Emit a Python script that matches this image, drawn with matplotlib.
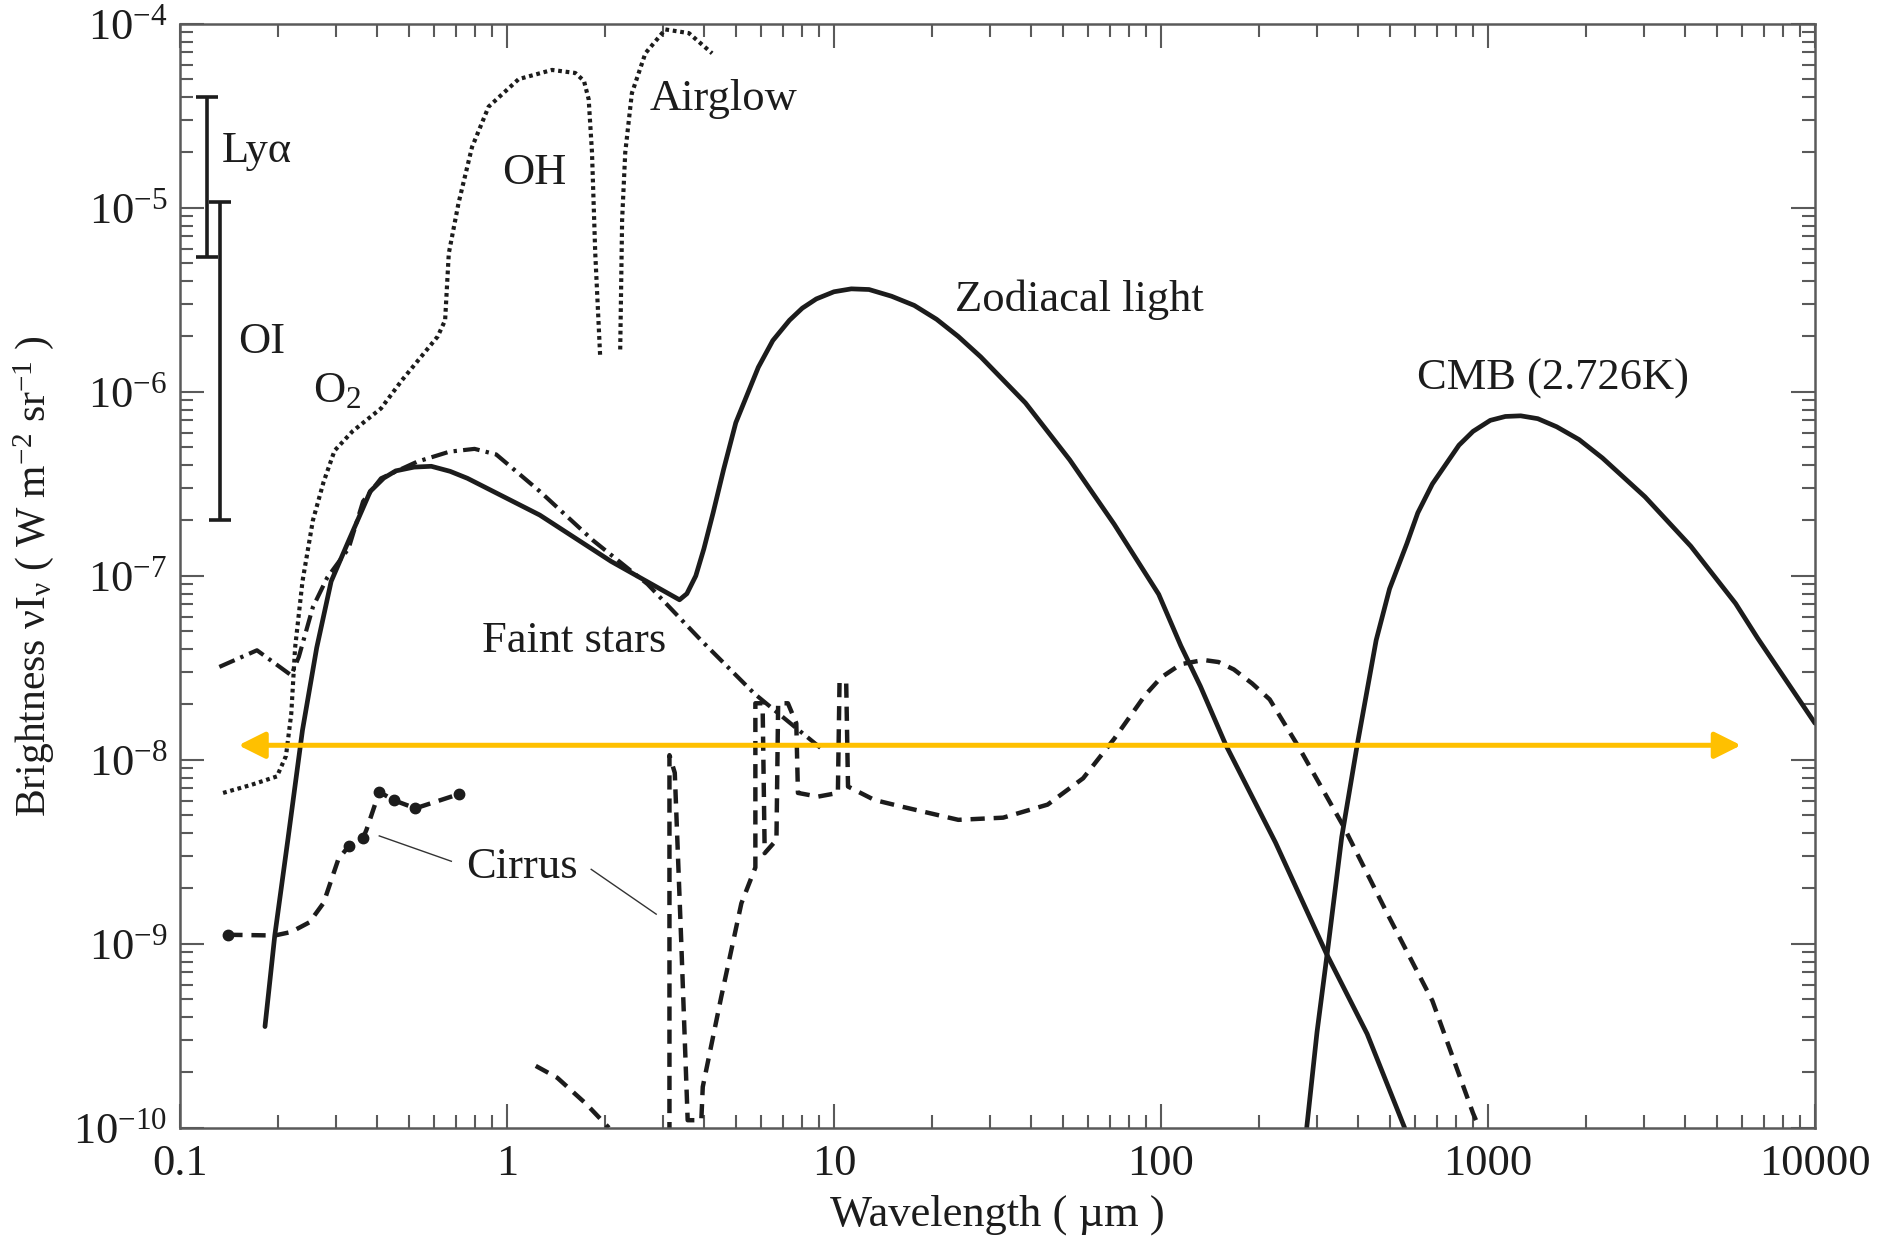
import numpy as np
import matplotlib
matplotlib.use("Agg")
import matplotlib.pyplot as plt
from matplotlib.ticker import LogLocator, NullFormatter

plt.rcParams['font.family'] = ['Liberation Serif', 'DejaVu Serif']
plt.rcParams['mathtext.fontset'] = 'custom'
plt.rcParams['mathtext.rm'] = 'Liberation Serif'
plt.rcParams['mathtext.it'] = 'Liberation Serif'
plt.rcParams['mathtext.bf'] = 'Liberation Serif:bold'

# ---- data (wavelength in um, brightness in W m^-2 sr^-1)
zodi_wl = [0.182, 0.195, 0.214, 0.237, 0.262, 0.290, 0.328, 0.382, 0.42, 0.457, 0.52, 0.587,
           0.67, 0.757, 1.26, 2.08, 3.37, 3.55, 3.78, 4.0, 4.27, 4.6, 5.01, 5.87, 6.5, 7.31,
           8.0, 8.83, 10.0, 11.3, 12.8, 15.0, 17.6, 20.6, 24.0, 28.1, 38.5, 52.6, 71.9,
           98.4, 115, 132, 158, 224, 320, 427, 556]
zodi_b = [3.55e-10, 1.11e-9, 3.72e-9, 1.45e-8, 4.07e-8, 9.33e-8, 1.55e-7, 2.88e-7, 3.4e-7,
          3.72e-7, 3.9e-7, 3.94e-7, 3.7e-7, 3.39e-7, 2.14e-7, 1.20e-7, 7.41e-8, 8.0e-8, 1.0e-7,
          1.4e-7, 2.2e-7, 3.8e-7, 6.8e-7, 1.36e-6, 1.9e-6, 2.45e-6, 2.85e-6, 3.2e-6, 3.5e-6,
          3.63e-6, 3.6e-6, 3.31e-6, 2.95e-6, 2.48e-6, 2.0e-6, 1.55e-6, 8.71e-7, 4.27e-7,
          1.91e-7, 7.94e-8, 4.17e-8, 2.51e-8, 1.2e-8, 3.55e-9, 8.9e-10, 3.24e-10, 1.0e-10]

faint_wl = [0.132, 0.172, 0.219, 0.231, 0.255, 0.282, 0.328, 0.363, 0.412, 0.531, 0.667,
            0.796, 0.927, 1.26, 1.84, 2.69, 3.92, 5.71, 7.59, 9.33]
faint_b = [3.20e-8, 3.94e-8, 2.88e-8, 3.63e-8, 6.76e-8, 9.77e-8, 1.41e-7, 2.54e-7, 3.39e-7,
           4.17e-7, 4.73e-7, 4.90e-7, 4.57e-7, 2.88e-7, 1.55e-7, 9.02e-8, 4.47e-8, 2.29e-8,
           1.51e-8, 1.12e-8]

airglow1_wl = [0.1355, 0.166, 0.198, 0.211, 0.219, 0.225, 0.237, 0.255, 0.275, 0.297, 0.337,
               0.412, 0.478, 0.614, 0.647, 0.664, 0.711, 0.782, 0.879, 1.086, 1.374, 1.618,
               1.72, 1.778, 1.82, 1.862, 1.928]
airglow1_b = [6.61e-9, 7.33e-9, 8.13e-9, 1.05e-8, 1.78e-8, 4.07e-8, 9.33e-8, 2.0e-7, 3.24e-7,
              4.79e-7, 6.10e-7, 8.13e-7, 1.16e-6, 2.0e-6, 2.45e-6, 5.66e-6, 1.06e-5, 2.14e-5,
              3.55e-5, 5.01e-5, 5.62e-5, 5.41e-5, 4.9e-5, 3.89e-5, 2.0e-5, 5.69e-6, 1.55e-6]
airglow2_wl = [2.22, 2.25, 2.30, 2.41, 2.65, 3.05, 3.60, 4.24]
airglow2_b = [1.70e-6, 8.61e-6, 2.0e-5, 4.20e-5, 6.92e-5, 9.33e-5, 8.91e-5, 6.92e-5]

cirrus1_wl = [0.1406, 0.195, 0.219, 0.249, 0.275, 0.305, 0.328, 0.363, 0.372, 0.407, 0.451,
              0.525, 0.711]
cirrus1_b = [1.12e-9, 1.11e-9, 1.16e-9, 1.31e-9, 1.67e-9, 2.88e-9, 3.39e-9, 3.76e-9, 4.17e-9,
             6.70e-9, 6.03e-9, 5.45e-9, 6.50e-9]
cirrus1_dot = [True, False, False, False, False, False, True, True, False, True, True, True, True]
cirrus2_wl = [1.225, 1.426, 1.746, 2.05]
cirrus2_b = [2.17e-10, 1.87e-10, 1.35e-10, 1.0e-10]
cirrus3_wl = [3.14, 3.14, 3.26, 3.41, 3.57, 3.93, 3.97, 4.52, 5.21, 5.75, 5.75, 6.05, 6.14,
              6.67, 6.75, 7.23, 7.67, 7.76, 8.93, 10.28, 10.4, 10.9, 11.04, 13.3, 16.1, 24.0,
              32.9, 45.0, 57.8, 71.9, 89.5, 100, 115, 135, 150, 167, 190, 215, 264, 361, 493,
              676, 900, 940]
cirrus3_b = [9.0e-11, 1.06e-8, 8.5e-9, 1.05e-9, 1.1e-10, 1.1e-10, 1.67e-10, 5.13e-10, 1.66e-9,
             2.6e-9, 2.03e-8, 2.03e-8, 3.11e-9, 3.67e-9, 2.03e-8, 2.03e-8, 1.58e-8, 6.61e-9,
             6.31e-9, 6.61e-9, 2.67e-8, 2.61e-8, 7.16e-9, 6.05e-9, 5.57e-9, 4.72e-9, 4.85e-9,
             5.71e-9, 7.94e-9, 1.30e-8, 2.25e-8, 2.8e-8, 3.31e-8, 3.49e-8, 3.4e-8, 3.1e-8,
             2.6e-8, 2.13e-8, 1.17e-8, 4.37e-9, 1.45e-9, 4.9e-10, 1.2e-10, 1.0e-10]

cmb_wl = [279, 300, 323, 357, 398, 455, 500, 565, 610, 676, 815, 900, 1016, 1130, 1259, 1420,
          1622, 1900, 2239, 3020, 4169, 5715, 6683, 10000]
cmb_b = [1.0e-10, 3.31e-10, 9.12e-10, 3.80e-9, 1.20e-8, 4.47e-8, 8.5e-8, 1.5e-7, 2.2e-7,
         3.16e-7, 5.13e-7, 6.1e-7, 7.0e-7, 7.35e-7, 7.41e-7, 7.15e-7, 6.46e-7, 5.5e-7, 4.37e-7,
         2.69e-7, 1.45e-7, 7.08e-8, 4.57e-8, 1.58e-8]

# emission-line ranges (wavelength, top, bottom)
lya_range = (0.121, 4.0e-5, 5.4e-6)
oi_range = (0.133, 1.08e-5, 2.0e-7)

# highlighted band
arrow_wl = (0.151, 5940)
arrow_b = 1.2e-8

x_ticks = [0.1, 1, 10, 100, 1000, 10000]
x_ticklabels = ['0.1', '1', '10', '100', '1000', '10000']
y_ticks = [1e-10, 1e-9, 1e-8, 1e-7, 1e-6, 1e-5, 1e-4]
y_ticklabels = [r'$10^{-10}$', r'$10^{-9}$', r'$10^{-8}$', r'$10^{-7}$',
                r'$10^{-6}$', r'$10^{-5}$', r'$10^{-4}$']

ink = '#1c1c1c'
fs = 32

fig = plt.figure(figsize=(18.94, 12.38), dpi=100)
ax = fig.add_axes([0.095, 0.089, 0.8633, 0.8917])
ax.set_xscale('log')
ax.set_yscale('log')

solid = dict(color=ink, lw=3.4, solid_joinstyle='round', solid_capstyle='round')
ax.plot(zodi_wl, zodi_b, **solid)
ax.plot(cmb_wl, cmb_b, **solid)
ax.plot(faint_wl, faint_b, color=ink, lw=3.0, linestyle=(0, (4, 1.5, 0.8, 1.5)))
ax.plot(airglow1_wl, airglow1_b, color=ink, lw=3.0, linestyle=(0, (0.9, 0.9)))
ax.plot(airglow2_wl, airglow2_b, color=ink, lw=3.0, linestyle=(0, (0.9, 0.9)))

dash = (0, (3.2, 2.0))
ax.plot(cirrus1_wl, cirrus1_b, color=ink, lw=3.2, linestyle=dash)
dots_wl = [w for w, d in zip(cirrus1_wl, cirrus1_dot) if d]
dots_b = [b for b, d in zip(cirrus1_b, cirrus1_dot) if d]
ax.plot(dots_wl, dots_b, 'o', color=ink, ms=7.5)
ax.plot(cirrus2_wl, cirrus2_b, color=ink, lw=3.2, linestyle=dash)
ax.plot(cirrus3_wl, cirrus3_b, color=ink, lw=3.2, linestyle=dash)

for wl, top, bot in (lya_range, oi_range):
    ax.errorbar([wl], [top], yerr=[[top - bot], [0]], fmt='none', ecolor=ink,
                elinewidth=2.6, capsize=8, capthick=2.6)

ax.annotate('', xy=(arrow_wl[1], arrow_b), xytext=(arrow_wl[0], arrow_b),
            arrowprops=dict(arrowstyle='<|-|>,head_length=0.8,head_width=0.4',
                            color='#FFC000', lw=3.6, mutation_scale=20,
                            shrinkA=0, shrinkB=0))

# labels
ax.text(0.1346, 2.03e-5, 'Lyα', fontsize=fs, color=ink, ha='left', va='center')
ax.text(0.178, 1.86e-6, 'OI', fontsize=fs, color=ink, ha='center', va='center')
ax.text(0.302, 1.01e-6, r'$\mathrm{O}_2$', fontsize=fs, color=ink, ha='center', va='center')
ax.text(1.21, 1.55e-5, 'OH', fontsize=fs, color=ink, ha='center', va='center')
ax.text(2.73, 3.89e-5, 'Airglow', fontsize=fs, color=ink, ha='left', va='center')
ax.text(23.5, 3.16e-6, 'Zodiacal light', fontsize=fs, color=ink, ha='left', va='center')
ax.text(1581, 1.18e-6, 'CMB (2.726K)', fontsize=fs, color=ink, ha='center', va='center')
ax.text(1.61, 4.43e-8, 'Faint stars', fontsize=fs, color=ink, ha='center', va='center')
ax.text(1.11, 2.61e-9, 'Cirrus', fontsize=fs, color=ink, ha='center', va='center')
ax.plot([0.407, 0.676], [3.86e-9, 2.81e-9], color='#333333', lw=1.0)
ax.plot([1.81, 2.86], [2.54e-9, 1.45e-9], color='#333333', lw=1.0)

ax.set_xlim(0.1, 1e4)
ax.set_ylim(1e-10, 1e-4)
ax.set_xticks(x_ticks)
ax.set_xticklabels(x_ticklabels)
ax.set_yticks(y_ticks)
ax.set_yticklabels(y_ticklabels)
for axis in (ax.xaxis, ax.yaxis):
    axis.set_minor_locator(LogLocator(base=10, subs=np.arange(2, 10), numticks=20))
    axis.set_minor_formatter(NullFormatter())

ax.tick_params(which='both', direction='in', top=True, right=True,
               color='#5a5a5a', labelcolor=ink, labelsize=fs)
ax.tick_params(which='major', length=17, width=1.5)
ax.tick_params(which='minor', length=9.5, width=1.5)
ax.tick_params(axis='x', pad=12)
ax.tick_params(axis='y', pad=9)
for s in ax.spines.values():
    s.set_color('#5a5a5a')
    s.set_linewidth(1.8)

ax.set_xlabel('Wavelength ( µm )', fontsize=fs, color=ink)
ax.xaxis.set_label_coords(0.5, -0.06)
ax.set_ylabel(r'Brightness $\nu\mathrm{I}_\nu$ ( W m$^{-2}$ sr$^{-1}$ )', fontsize=30, color=ink)
ax.yaxis.set_label_coords(-0.076, 0.5)

fig.savefig('out.png', dpi=100)
